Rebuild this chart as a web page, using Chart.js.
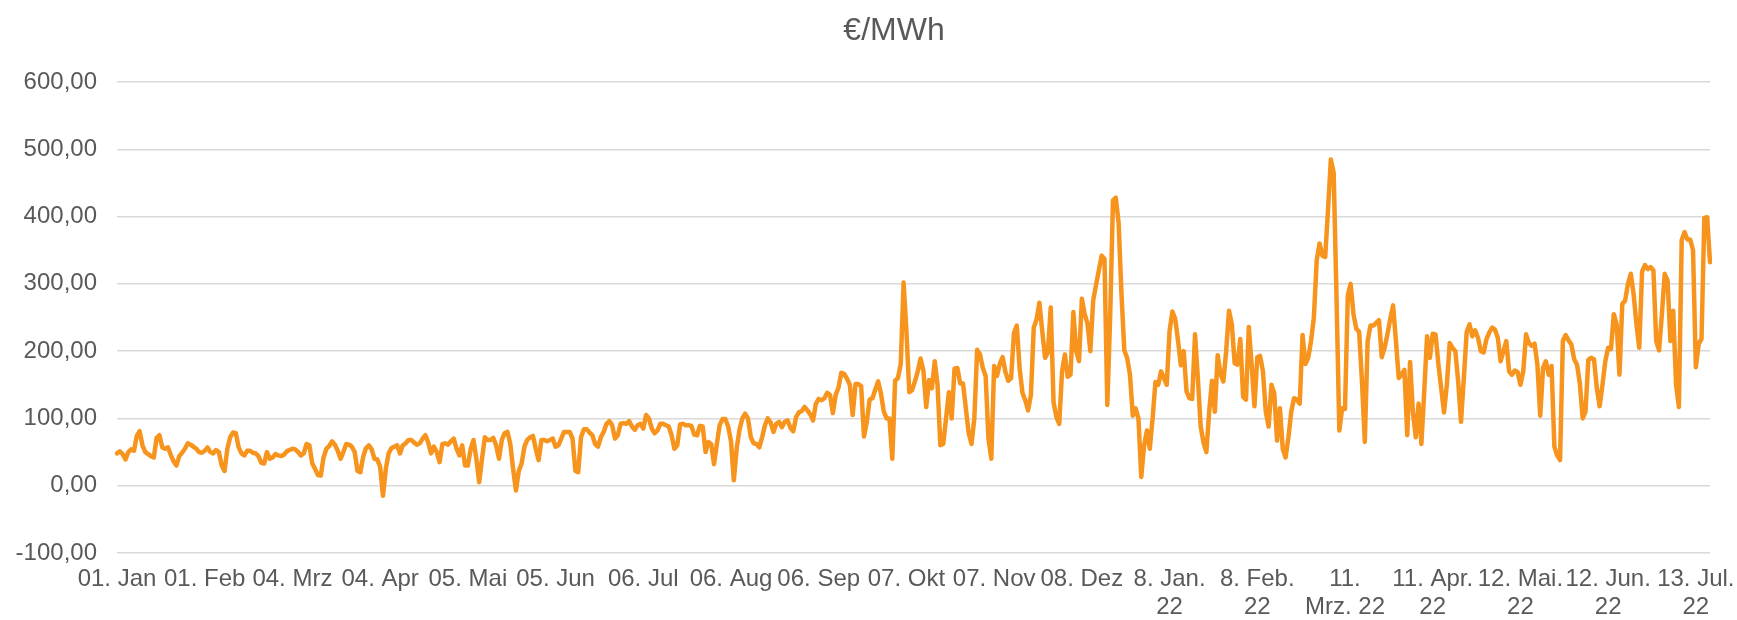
<!DOCTYPE html>
<html>
<head>
<meta charset="utf-8">
<script src="https://cdn.jsdelivr.net/npm/chart.js@4.4.1/dist/chart.umd.min.js"></script>
<style>
  html, body { margin: 0; padding: 0; background: #ffffff; }
  #wrap { width: 1737px; height: 620px; position: relative; }
</style>
</head>
<body>
<div id="wrap"><canvas id="michael" width="1737" height="620"></canvas></div>
<script>
// daily price €/MWh, 01.01.2021 - 31.12.2021
var prices2021 = [
  48, 51, 47, 39, 50, 54, 52, 74, 81, 60,
  50, 47, 44, 42, 71, 75, 57, 55, 57, 46,
  36, 30, 44, 49, 55, 63, 61, 58, 55, 50,
  49, 52, 57, 50, 48, 53, 50, 30, 22, 55,
  72, 79, 78, 57, 48, 45, 52, 52, 49, 48,
  44, 34, 33, 50, 40, 42, 47, 45, 44, 46,
  51, 53, 55, 54, 50, 45, 48, 62, 60, 33,
  25, 16, 15, 42, 55, 59, 66, 61, 52, 40,
  50, 62, 61, 58, 50, 22, 20, 43, 56, 60,
  54, 40, 39, 28, -15, 25, 48, 56, 58, 60,
  48, 60, 63, 68, 68, 64, 61, 63, 70, 75,
  64, 48, 58, 50, 35, 62, 63, 61, 66, 70,
  55, 45, 60, 30, 30, 55, 68, 40, 5, 40,
  72, 68, 68, 71, 60, 40, 68, 78, 80, 62,
  25, -7, 22, 33, 58, 68, 72, 74, 55, 38,
  68, 68, 66, 68, 70, 58, 60, 70, 80, 80,
  80, 70, 22, 20, 72, 84, 84, 79, 75, 62,
  58, 72, 80, 92, 96, 90, 70, 75, 92, 93,
  92, 96, 88, 83, 90, 92, 85, 105, 100, 85,
  78, 82, 92, 92, 90, 88, 75, 55, 60, 91,
  92, 90, 90, 89, 76, 75, 89, 88, 50, 65,
  62, 32, 62, 90, 99, 99, 88, 66, 8, 55,
  83, 100, 107, 100, 72, 63, 62, 57, 72, 90,
  100, 94, 80, 92, 95, 87, 95, 97, 86, 81,
  102, 109, 111, 117, 112, 106, 97, 122, 129, 127,
  130, 138, 135, 108, 135, 146, 168, 166, 159, 150,
  105, 151, 151, 148, 73, 95, 128, 130, 143, 155,
  137, 110, 100, 100, 40, 156, 160, 181, 302, 230,
  139, 142, 155, 170, 189, 171, 117, 157, 145, 185,
  150, 60, 62, 100, 139, 100, 174, 175, 152, 152,
  115, 78, 62, 100, 202, 195, 175, 163, 70, 40,
  178, 163, 181, 191, 169, 156, 160, 227, 238, 175,
  138, 127, 112, 135, 235, 247, 272, 230, 190, 198,
  265, 124, 102, 92, 170, 195, 162, 165, 258, 200,
  185, 278, 255, 241, 200, 275, 298, 320, 342, 337,
  120, 250, 424, 428, 390, 285, 201, 190, 165, 104,
  115, 100, 13, 60, 82
];

// 01.01.2022 - 18.07.2022
var prices2022 = [
  55, 100, 154, 150, 170,
  160, 150, 230, 259, 248, 215, 179, 200, 140, 130,
  129, 225, 160, 88, 64, 50, 110, 156, 110, 194,
  166, 155, 200, 260, 240, 182, 180, 218, 132, 128,
  236, 180, 118, 191, 193, 170, 110, 88, 150, 137,
  67, 115, 55, 42, 72, 110, 130, 128, 122, 224,
  181, 190, 215, 250, 335, 360, 342, 340, 410, 485,
  465, 280, 82, 115, 114, 283, 300, 255, 233, 229,
  155, 65, 215, 238, 238, 242, 246, 191, 205, 225,
  248, 268, 215, 160, 165, 172, 75, 184, 110, 72,
  122, 62, 140, 222, 190, 226, 225, 181, 145, 109,
  150, 212, 205, 200, 155, 95, 160, 228, 240, 222,
  231, 220, 200, 198, 218, 228, 235, 232, 220, 185,
  200, 215, 170, 165, 171, 169, 150, 170, 225, 212,
  208, 211, 180, 104, 175, 185, 165, 178, 58, 45,
  38, 215, 224, 216, 210, 188, 180, 152, 100, 110,
  187, 190, 188, 145, 118, 150, 185, 205, 203, 255,
  240, 165, 270, 275, 300, 315, 285, 240, 205, 318,
  328, 322, 325, 320, 215, 201, 255, 315, 305, 215,
  260, 151, 117, 365, 377, 366, 366, 350, 176, 211,
  218, 398, 399, 332
];

var tickLabels = [
  "01. Jan", "01. Feb", "04. Mrz", "04. Apr", "05. Mai", "05. Jun", "06. Jul",
  "06. Aug", "06. Sep", "07. Okt", "07. Nov", "08. Dez",
  ["8. Jan.", "22"], ["8. Feb.", "22"], ["11.", "Mrz. 22"], ["11. Apr.", "22"],
  ["12. Mai.", "22"], ["12. Jun.", "22"], ["13. Jul.", "22"]
];
var tickStep = 31;
var yTicks = [-100, 0, 100, 200, 300, 400, 500, 600];

var prices = prices2021.concat(prices2022);

// one category per day
var days = [];
var d = new Date(2021, 0, 1);
for (var i = 0; i < prices.length; i++) {
  days.push(d.getDate() + "." + (d.getMonth() + 1) + "." + d.getFullYear());
  d.setDate(d.getDate() + 1);
}

var grey = "#595959";

var titlePlugin = {
  id: "bigTitle",
  afterDraw: function (chart) {
    var c = chart.ctx;
    c.save();
    c.fillStyle = grey;
    c.font = "32px 'Liberation Sans', Arial, sans-serif";
    c.textAlign = "center";
    c.textBaseline = "middle";
    c.fillText("€/MWh", 894, 31);
    c.restore();
  }
};

var ctx = document.getElementById("michael");
var context = ctx.getContext("2d");

var myChart = new Chart(context, {
  type: "line",
  data: {
    labels: days,
    datasets: [{
      label: "€/MWh",
      data: prices,
      borderColor: "#F7941D",
      backgroundColor: "#F7941D",
      borderWidth: 4.5,
      pointRadius: 0,
      tension: 0,
      borderJoinStyle: "round",
      borderCapStyle: "round"
    }]
  },
  options: {
    responsive: false,
    animation: false,
    layout: { padding: { top: 82, right: 27, left: 0, bottom: 0 } },
    plugins: {
      legend: { display: false },
      tooltip: { enabled: false },
      title: { display: false }
    },
    scales: {
      x: {
        grid: { display: false, drawTicks: false },
        border: { display: false },
        afterFit: function (scale) {
          scale.height = 67;
          scale.paddingLeft = 0;
          scale.paddingRight = 0;
        },
        ticks: {
          autoSkip: false,
          maxRotation: 0,
          minRotation: 0,
          padding: 12,
          color: grey,
          font: { family: "'Liberation Sans Narrow', 'Liberation Sans', Arial", size: 24, lineHeight: 1.17 },
          callback: function (v, idx) {
            if (idx % tickStep === 0 && tickLabels[idx / tickStep] !== undefined) {
              return tickLabels[idx / tickStep];
            }
            return null;
          }
        }
      },
      y: {
        min: yTicks[0],
        max: yTicks[yTicks.length - 1],
        afterFit: function (scale) { scale.width = 117; },
        afterBuildTicks: function (scale) {
          scale.ticks = yTicks.map(function (v) { return { value: v }; });
        },
        grid: { color: "#d9d9d9", lineWidth: 1.5, drawTicks: false },
        border: { display: false },
        ticks: {
          padding: 20,
          color: grey,
          font: { family: "'Liberation Sans', Arial", size: 24 },
          callback: function (v) { return v.toFixed(2).replace(".", ","); }
        }
      }
    }
  },
  plugins: [titlePlugin]
});
</script>
</body>
</html>
